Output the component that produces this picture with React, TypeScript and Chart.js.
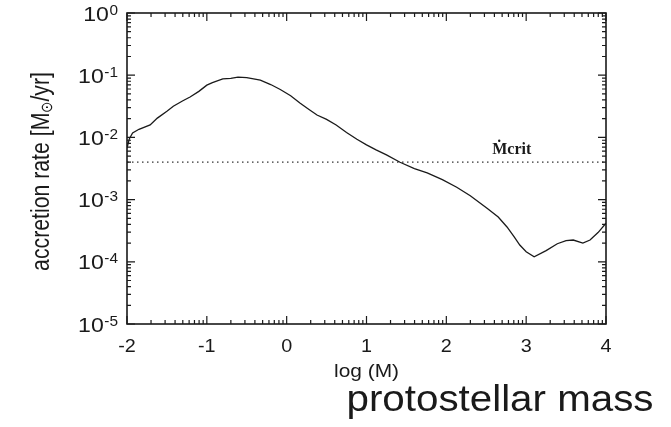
import React, { useEffect, useRef } from "react";
import { Chart, registerables } from "chart.js";

Chart.register(...registerables);

// log10 of protostellar mass (solar masses)
const logMass = [
  -2.0, -1.97, -1.93, -1.85, -1.71, -1.62, -1.5, -1.42, -1.3, -1.21, -1.1, -1.0,
  -0.93, -0.8, -0.7, -0.61, -0.5, -0.33, -0.2, -0.08, 0.05, 0.17, 0.28, 0.38,
  0.5, 0.62, 0.75, 0.88, 1.0, 1.12, 1.25, 1.42, 1.6, 1.76, 1.95, 2.13, 2.3,
  2.51, 2.65, 2.76, 2.85, 2.92, 3.0, 3.1, 3.25, 3.39, 3.5, 3.59, 3.71, 3.8,
  3.9, 4.0,
];

// accretion rate in solar masses per year
const accretionRate = [
  0.00676, 0.00955, 0.01175, 0.01349, 0.01585, 0.02042, 0.0263, 0.03162,
  0.0389, 0.04467, 0.05495, 0.06918, 0.07586, 0.0871, 0.08913, 0.09333,
  0.0912, 0.08318, 0.07079, 0.05888, 0.04677, 0.03548, 0.02818, 0.02291,
  0.0195, 0.01585, 0.01202, 0.00933, 0.00759, 0.00631, 0.00525, 0.00398,
  0.00316, 0.00269, 0.00209, 0.00158, 0.00115, 0.000724, 0.000525, 0.000363,
  0.000251, 0.000186, 0.000145, 0.00012, 0.000151, 0.000195, 0.000219,
  0.000224, 0.0002, 0.000224, 0.000295, 0.000417,
];

const criticalRate = 4e-3;
const criticalLabelX = 2.82;

const xMajorTicks = [-2, -1, 0, 1, 2, 3, 4];
const yDecadeExponents = [0, -1, -2, -3, -4, -5];

const criticalLabel = "Ṁcrit";
const xAxisTitle = "log (M)";
const yAxisTitleParts = ["accretion rate [M", "⊙", "/yr]"];
const caption = "protostellar mass";

const SANS = '"Liberation Sans", Arial, Helvetica, sans-serif';
const SERIF = '"Liberation Serif", "Times New Roman", serif';
const INK = "#1a1a1a";
const TEXT_STRETCH = 1.1;

function stretchedText(
  ctx: CanvasRenderingContext2D,
  text: string,
  x: number,
  y: number,
  align: CanvasTextAlign,
  sx: number
) {
  ctx.save();
  ctx.translate(x, y);
  ctx.scale(sx, 1);
  ctx.textAlign = align;
  ctx.fillText(text, 0, 0);
  ctx.restore();
}

const framePlugin = {
  id: "idlFrame",
  afterDraw(chart: any) {
    const { ctx, chartArea: a } = chart;
    const xs = chart.scales.x;
    const ys = chart.scales.y;
    ctx.save();

    // plot frame
    ctx.strokeStyle = INK;
    ctx.lineWidth = 1.6;
    ctx.strokeRect(a.left, a.top, a.right - a.left, a.bottom - a.top);

    // inward tick marks on all four sides
    ctx.lineWidth = 1.2;
    const MAJOR = 8;
    const MINOR = 4;
    const vTick = (px: number, len: number) => {
      ctx.beginPath();
      ctx.moveTo(px, a.bottom);
      ctx.lineTo(px, a.bottom - len);
      ctx.moveTo(px, a.top);
      ctx.lineTo(px, a.top + len);
      ctx.stroke();
    };
    const hTick = (py: number, len: number) => {
      ctx.beginPath();
      ctx.moveTo(a.left, py);
      ctx.lineTo(a.left + len, py);
      ctx.moveTo(a.right, py);
      ctx.lineTo(a.right - len, py);
      ctx.stroke();
    };
    xMajorTicks.forEach((v, i) => {
      vTick(xs.getPixelForValue(v), MAJOR);
      if (i < xMajorTicks.length - 1) {
        for (let k = 2; k <= 9; k++) {
          vTick(xs.getPixelForValue(v + Math.log10(k)), MINOR);
        }
      }
    });
    yDecadeExponents.forEach((e) => {
      hTick(ys.getPixelForValue(Math.pow(10, e)), MAJOR);
      if (e > yDecadeExponents[yDecadeExponents.length - 1]) {
        for (let k = 2; k <= 9; k++) {
          hTick(ys.getPixelForValue(k * Math.pow(10, e - 1)), MINOR);
        }
      }
    });

    ctx.fillStyle = INK;
    ctx.textBaseline = "alphabetic";

    // y tick labels: 10 with raised exponent
    const labelRight = a.left - 9;
    yDecadeExponents.forEach((e) => {
      const py = ys.getPixelForValue(Math.pow(10, e));
      const exp = String(e);
      ctx.font = `14px ${SANS}`;
      const we = ctx.measureText(exp).width * TEXT_STRETCH;
      stretchedText(ctx, exp, labelRight, py + 1.5, "right", TEXT_STRETCH);
      ctx.font = `21px ${SANS}`;
      stretchedText(ctx, "10", labelRight - we - 0.5, py + 7.5, "right", TEXT_STRETCH);
    });

    // x tick labels
    ctx.font = `18px ${SANS}`;
    xMajorTicks.forEach((v) => {
      stretchedText(ctx, String(v), xs.getPixelForValue(v), a.bottom + 28, "center", TEXT_STRETCH);
    });

    // x axis title
    ctx.font = `19px ${SANS}`;
    stretchedText(ctx, xAxisTitle, (a.left + a.right) / 2, a.bottom + 53, "center", TEXT_STRETCH);

    // y axis title (condensed) with subscript sun symbol
    ctx.save();
    ctx.translate(40, (a.top + a.bottom) / 2 + 3);
    ctx.rotate(-Math.PI / 2);
    ctx.scale(0.85, 1);
    const mainFont = `25px ${SANS}`;
    const subFont = `16px ${SANS}`;
    ctx.font = mainFont;
    const w0 = ctx.measureText(yAxisTitleParts[0]).width;
    const w2 = ctx.measureText(yAxisTitleParts[2]).width;
    ctx.font = subFont;
    const w1 = ctx.measureText(yAxisTitleParts[1]).width;
    let u = -(w0 + w1 + w2) / 2;
    ctx.textAlign = "left";
    ctx.font = mainFont;
    ctx.fillText(yAxisTitleParts[0], u, 9);
    u += w0;
    ctx.font = subFont;
    ctx.fillText(yAxisTitleParts[1], u, 12);
    u += w1;
    ctx.font = mainFont;
    ctx.fillText(yAxisTitleParts[2], u, 9);
    ctx.restore();

    // label for the critical accretion rate line
    ctx.font = `bold 16px ${SERIF}`;
    stretchedText(
      ctx,
      criticalLabel,
      xs.getPixelForValue(criticalLabelX),
      ys.getPixelForValue(criticalRate) - 8,
      "center",
      1
    );

    // caption below the axis
    ctx.font = `36px ${SANS}`;
    stretchedText(ctx, caption, 500, a.bottom + 87, "center", 1.12);

    ctx.restore();
  },
};

export default function App() {
  const canvasRef = useRef<HTMLCanvasElement | null>(null);

  useEffect(() => {
    const canvas = canvasRef.current;
    if (!canvas) return;
    const chart = new Chart(canvas, {
      type: "line",
      data: {
        datasets: [
          {
            label: "accretion rate",
            data: logMass.map((m, i) => ({ x: m, y: accretionRate[i] })),
            borderColor: INK,
            borderWidth: 1.3,
            pointRadius: 0,
            tension: 0,
            fill: false,
          },
          {
            label: "critical rate",
            data: [
              { x: xMajorTicks[0], y: criticalRate },
              { x: xMajorTicks[xMajorTicks.length - 1], y: criticalRate },
            ],
            borderColor: "#333333",
            borderWidth: 1.2,
            borderDash: [1.5, 3.5],
            pointRadius: 0,
            fill: false,
          },
        ],
      },
      options: {
        animation: false,
        responsive: false,
        events: [],
        layout: { padding: { left: 127, right: 65, top: 13, bottom: 103 } },
        plugins: {
          legend: { display: false },
          tooltip: { enabled: false },
          title: { display: false },
        },
        scales: {
          x: {
            type: "linear",
            min: xMajorTicks[0],
            max: xMajorTicks[xMajorTicks.length - 1],
            ticks: { display: false },
            grid: { display: false, drawTicks: false },
            border: { display: false },
          },
          y: {
            type: "logarithmic",
            min: Math.pow(10, yDecadeExponents[yDecadeExponents.length - 1]),
            max: Math.pow(10, yDecadeExponents[0]),
            ticks: { display: false },
            grid: { display: false, drawTicks: false },
            border: { display: false },
          },
        },
      },
      plugins: [framePlugin],
    });
    return () => chart.destroy();
  }, []);

  return (
    <div
      style={{
        position: "absolute",
        left: 0,
        top: 0,
        width: 671,
        height: 427,
        background: "#ffffff",
      }}
    >
      <canvas ref={canvasRef} width={671} height={427} style={{ display: "block" }} />
    </div>
  );
}
